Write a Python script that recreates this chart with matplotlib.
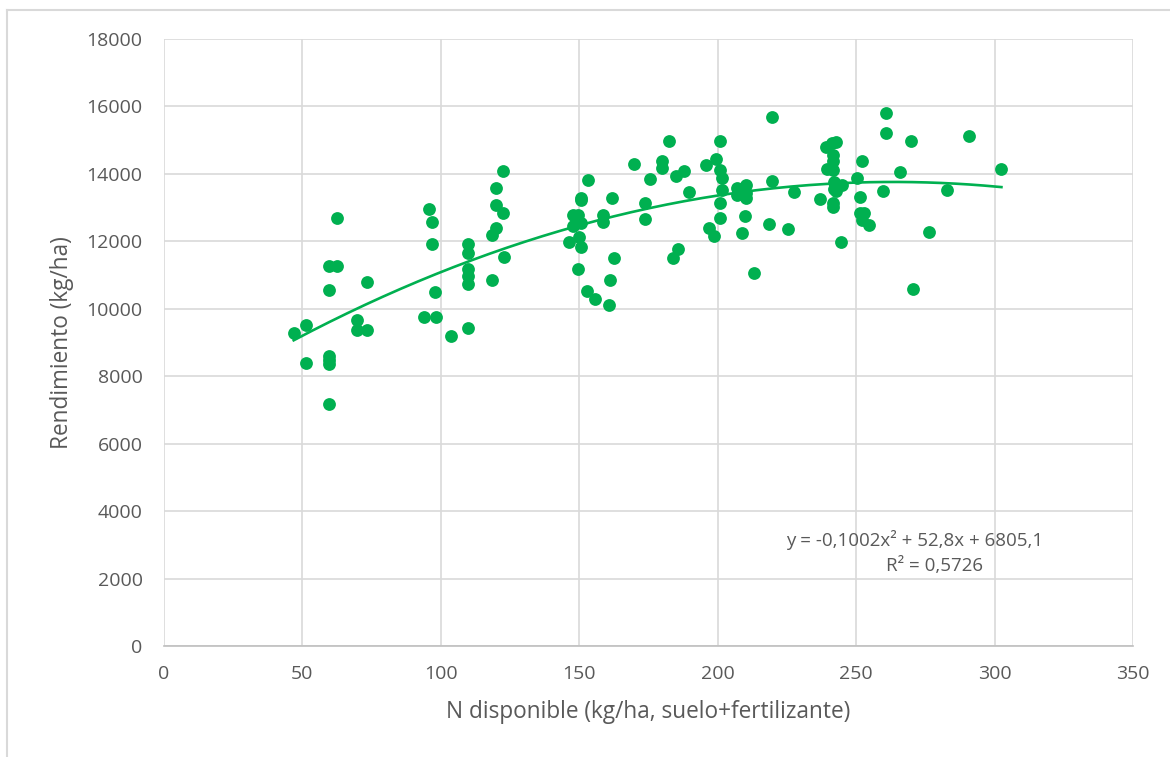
"""Rendimiento vs N disponible — scatter with quadratic trendline (Excel-style)."""
import matplotlib

matplotlib.use("Agg")
import matplotlib.pyplot as plt
import numpy as np

# N disponible (kg/ha) and yield (kg/ha)
n_disp = [47.0, 51.3, 51.3, 59.8, 59.8, 59.8, 59.8, 59.8, 59.8, 62.8, 62.8,
          69.9, 69.9, 73.5, 73.5, 93.9, 98.5, 103.8, 109.9, 97.9, 95.8,
          97.0, 97.0, 109.9, 109.9, 109.9, 109.9, 109.9, 118.5, 118.5, 119.9,
          119.9, 119.9, 122.7, 122.7, 123.1,
          147.7, 149.5, 147.7, 146.5, 149.9, 150.7, 150.7, 150.9, 150.9, 153.4,
          149.8, 152.8, 155.8, 160.7, 161.2, 162.8, 158.5, 158.5, 161.8, 169.9,
          173.8, 173.8, 175.7, 179.8, 179.8, 182.6, 183.8, 185.8, 185.0, 188.0,
          189.8, 195.8, 199.4, 201.0, 201.0, 201.8, 201.8, 201.0, 201.0, 196.8,
          198.8, 207.2, 210.2, 210.2, 207.2, 210.4, 210.0, 208.8, 213.3, 219.6,
          219.8, 218.6, 225.6, 227.6,
          236.9, 239.3, 241.5, 242.7, 241.8, 241.8, 239.6, 241.8, 242.1, 242.7,
          245.1, 242.1, 242.7, 241.8, 241.8, 244.7, 250.5, 251.4, 252.3, 251.4,
          252.9, 252.3, 254.7, 260.7, 260.7, 259.8, 265.9, 269.7, 270.7, 276.3,
          282.9, 290.7, 302.5]
rendimiento = [9290, 9505, 8390, 7185, 8610, 8490, 8370, 10565, 11275, 11275, 12690,
               9655, 9380, 9380, 10780, 9755, 9755, 9180, 9430, 10495, 12955,
               12560, 11925, 11925, 11650, 11180, 10980, 10720, 10840, 12195, 12390,
               13080, 13575, 12835, 14100, 11530,
               12785, 12785, 12440, 11995, 12115, 11845, 12555, 13280, 13230, 13820,
               11180, 10525, 10290, 10120, 10840, 11505, 12785, 12570, 13280, 14295,
               13150, 12655, 13850, 14385, 14160, 14980, 11505, 11770, 13950, 14100,
               13450, 14275, 14445, 14980, 14110, 13870, 13525, 13150, 12685, 12390,
               12165, 13575, 13675, 13430, 13380, 13280, 12755, 12260, 11060, 15700,
               13800, 12510, 12360, 13460,
               13260, 14790, 14910, 14940, 14570, 14375, 14150, 14130, 13745, 13625,
               13675, 13545, 13495, 13130, 13030, 11975, 13870, 13300, 14385, 12835,
               12855, 12635, 12470, 15815, 15225, 13495, 14050, 14980, 10585, 12270,
               13525, 15135, 14150]

# Excel trendline coefficients (polynomial, order 2)
coef = [-0.1002, 52.8, 6805.1]
eq_label = "y = -0,1002x² + 52,8x + 6805,1"
r2_label = "R² = 0,5726"

GREEN = "#00B050"
TEXT = "#595959"
GRID = "#D9D9D9"

plt.rcParams["font.family"] = ["Open Sans", "DejaVu Sans"]

fig = plt.figure(figsize=(11.7, 7.57), dpi=100)
ax = fig.add_axes([163.5 / 1170, 1 - 646 / 757, (1133 - 163.5) / 1170, (646 - 39) / 757])

ax.scatter(n_disp, rendimiento, s=85, color=GREEN, linewidths=0, zorder=3)
xs = np.linspace(min(n_disp), max(n_disp), 200)
ax.plot(xs, np.polyval(coef, xs), color=GREEN, linewidth=1.9, zorder=4)

ax.set_xlim(0, 350)
ax.set_ylim(0, 18000)
ax.set_xticks(range(0, 351, 50))
ax.set_yticks(range(0, 18001, 2000))
ax.set_axisbelow(True)
ax.grid(True, color=GRID, linewidth=1.2)
for side in ("top", "right", "left"):
    ax.spines[side].set_visible(False)
ax.spines["bottom"].set_color("#BFBFBF")
ax.spines["bottom"].set_linewidth(1.2)
ax.tick_params(length=0, labelsize=14, labelcolor=TEXT)
ax.tick_params(axis="y", pad=15)
ax.tick_params(axis="x", pad=14)

ax.set_xlabel("N disponible (kg/ha, suelo+fertilizante)", fontsize=16.3, color=TEXT, labelpad=12)
ax.set_ylabel("Rendimiento (kg/ha)", fontsize=16.3, color=TEXT, labelpad=9)

ax.text(915 / 1170, 1 - 540 / 757, eq_label, transform=fig.transFigure,
        ha="center", va="center", fontsize=13.5, color=TEXT)
ax.text(935 / 1170, 1 - 566 / 757, r2_label, transform=fig.transFigure,
        ha="center", va="center", fontsize=13.5, color=TEXT)

# light chart-area border (Excel frame, cut at the right/bottom like the source)
fig.add_artist(plt.Line2D([7 / 1170, 7 / 1170], [0, 1 - 10 / 757], color=GRID, linewidth=1.5))
fig.add_artist(plt.Line2D([7 / 1170, 1], [1 - 10 / 757, 1 - 10 / 757], color=GRID, linewidth=1.5))

fig.savefig("out.png", dpi=100)
